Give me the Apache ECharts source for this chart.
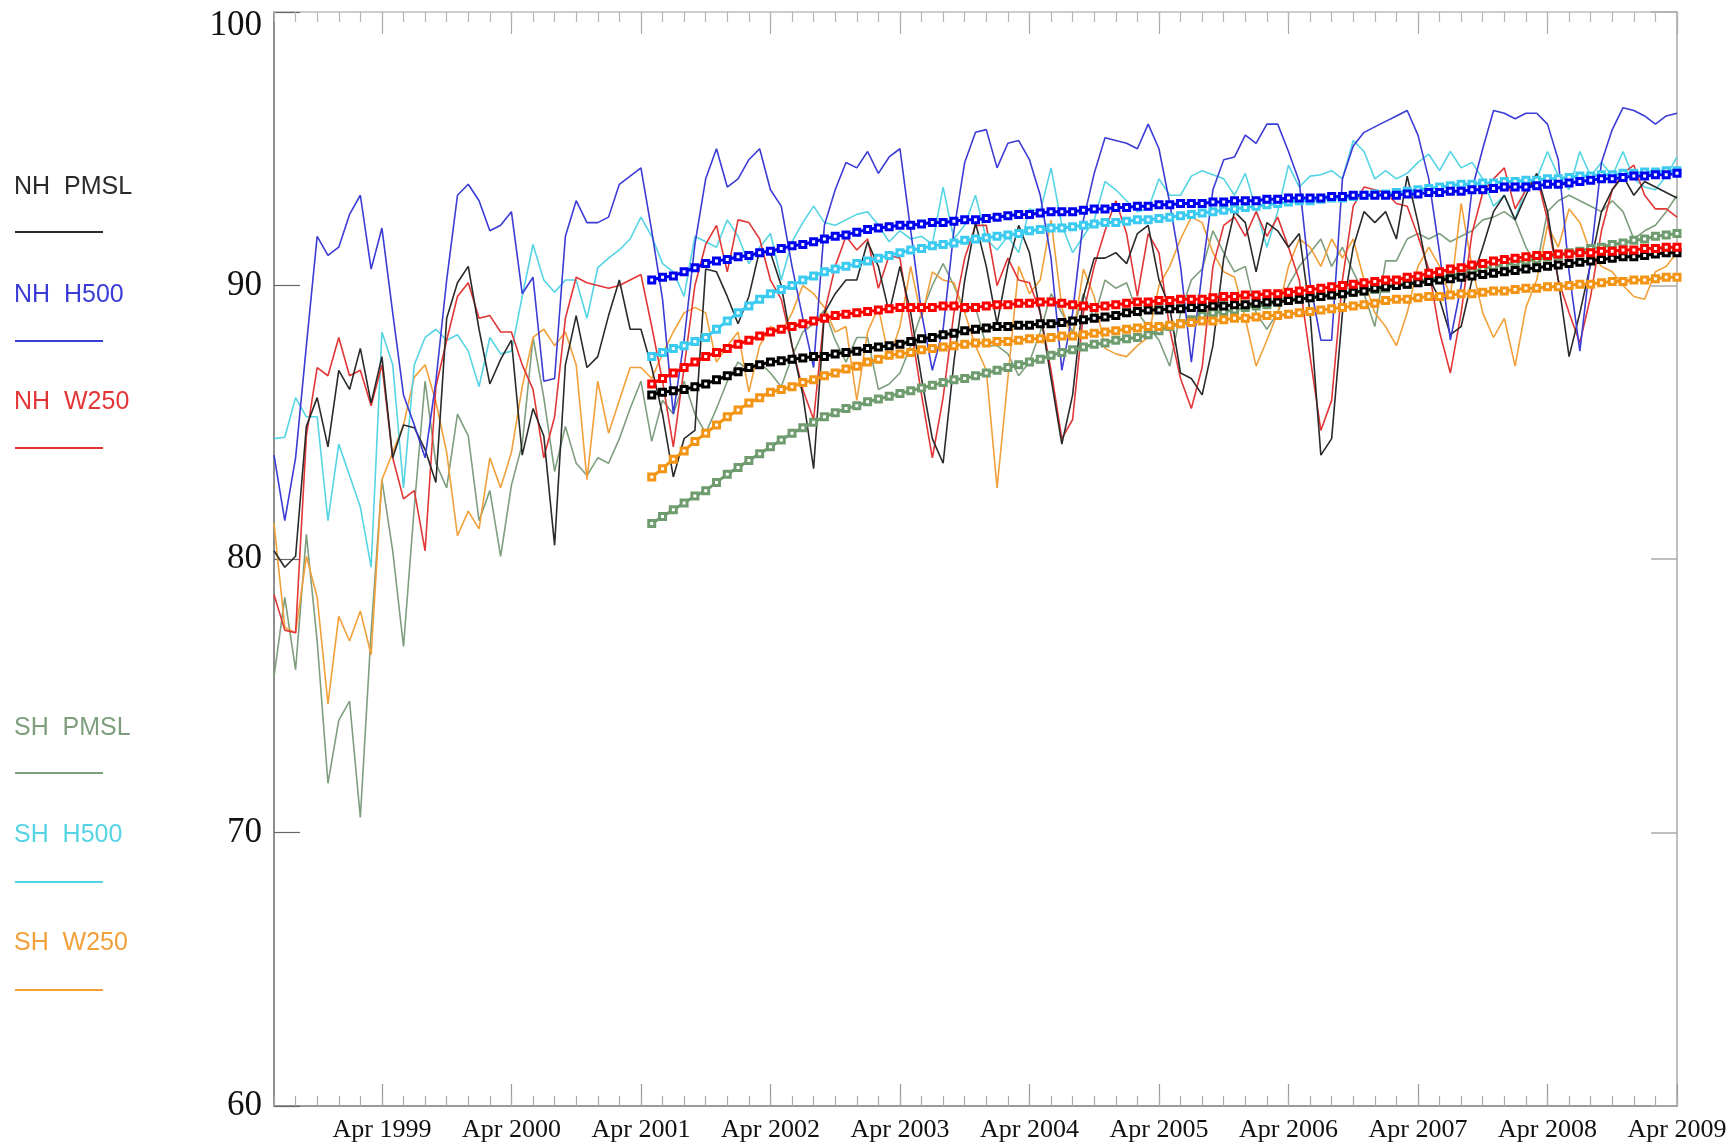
<!DOCTYPE html>
<html><head><meta charset="utf-8">
<script src="https://cdn.jsdelivr.net/npm/echarts@6/dist/echarts.min.js"></script>
<style>html,body{margin:0;padding:0;background:#fff}#c{width:1735px;height:1145px}</style>
</head><body><div id="c"></div>
<script>
// ---- categories: monthly, Jun 1998 .. Apr 2009
const startYear = 1998, startMonth = 6, nMonths = 131;
const months = [];
for (let k = 0; k < nMonths; k++) {
  const t = startMonth - 1 + k;
  months.push((startYear + Math.floor(t / 12)) + '-' + String(t % 12 + 1).padStart(2, '0'));
}
const tickLabels = ['Apr 1999','Apr 2000','Apr 2001','Apr 2002','Apr 2003','Apr 2004','Apr 2005','Apr 2006','Apr 2007','Apr 2008','Apr 2009'];
const firstTick = 10;   // index of Apr 1999
const meanStart = 35;   // first month of the running means (May 2001)

// ---- monthly scores
const nhPmsl = [80.3,79.7,80.1,84.85,85.9,84.1,86.9,86.2,87.7,85.7,87.4,83.7,84.9,84.8,84.0,82.8,88.8,90.1,90.7,88.4,86.4,87.3,88.0,83.8,85.5,84.5,80.5,87.1,88.9,87.0,87.4,88.9,90.2,88.4,88.4,87.0,85.3,83.0,84.4,84.7,90.6,90.5,89.6,88.6,89.6,91.3,91.2,90.0,87.8,86.0,83.3,89.0,89.7,90.2,90.2,91.6,90.7,89.0,90.7,89.0,86.6,84.4,83.5,87.2,90.2,92.3,90.7,88.6,90.7,92.2,91.2,89.0,86.6,84.2,86.0,89.6,91.0,91.0,91.2,90.8,91.9,92.2,90.2,89.2,86.8,86.6,86.0,87.8,91.0,92.7,92.3,90.5,92.3,92.0,91.4,91.9,89.0,83.8,84.4,89.0,91.4,92.7,92.3,92.7,91.7,94.0,92.3,90.3,89.5,88.2,88.5,90.2,91.4,92.7,93.3,92.4,93.3,94.1,92.7,90.2,87.4,89.0,90.8,92.7,93.5,94.0,93.3,93.8,93.6,93.4,93.2];
const nhH500 = [83.8,81.4,83.7,87.8,91.8,91.1,91.4,92.6,93.3,90.6,92.1,89.0,86.0,84.9,83.7,86.5,90.2,93.3,93.7,93.1,92.0,92.2,92.7,89.7,90.3,86.5,86.6,91.8,93.1,92.3,92.3,92.5,93.7,94.0,94.3,92.0,89.5,85.3,88.0,91.5,93.9,95.0,93.6,93.9,94.6,95.0,93.5,92.9,90.7,88.8,87.0,92.2,93.5,94.5,94.3,94.9,94.1,94.7,95.0,92.0,89.0,86.9,88.4,92.0,94.5,95.6,95.7,94.3,95.2,95.3,94.6,93.3,91.0,86.9,89.0,92.4,94.1,95.4,95.3,95.2,95.0,95.9,95.0,93.0,90.7,87.2,90.5,93.5,94.6,94.7,95.5,95.2,95.9,95.9,94.9,93.8,90.1,88.0,88.0,93.9,95.1,95.6,95.8,96.0,96.2,96.4,95.5,93.9,91.2,88.0,90.0,93.5,95.0,96.4,96.3,96.1,96.3,96.3,95.9,94.6,90.5,87.6,91.0,94.5,95.7,96.5,96.4,96.2,95.9,96.2,96.3];
const nhW250 = [78.7,77.4,77.3,84.5,87.0,86.7,88.1,86.7,86.9,85.6,87.1,83.7,82.2,82.5,80.3,86.3,88.0,89.6,90.1,88.8,88.9,88.3,88.3,87.1,86.2,83.7,85.2,88.8,90.3,90.1,90.0,89.9,90.0,90.2,90.4,88.5,86.5,84.1,87.0,90.0,91.5,92.2,90.5,92.4,92.3,91.7,90.2,89.5,87.8,86.2,85.1,89.0,90.7,91.8,91.3,91.7,89.9,91.1,91.0,88.5,86.0,83.7,85.9,89.0,91.0,92.2,92.2,90.0,91.0,90.2,90.1,89.0,86.9,84.4,85.1,89.0,90.7,92.0,93.1,91.9,89.6,91.9,91.2,88.4,86.6,85.5,87.0,90.7,92.2,92.5,91.8,92.7,91.8,92.5,91.4,90.2,87.4,84.7,85.8,90.2,92.9,93.6,93.5,93.4,93.0,92.9,91.8,90.6,88.3,86.8,89.0,91.9,93.4,93.9,94.3,92.8,93.5,94.0,92.4,90.2,89.0,87.9,89.6,92.0,93.5,94.1,94.4,93.3,92.8,92.8,92.5];
const shPmsl = [75.7,78.6,75.95,80.9,77.0,71.8,74.1,74.8,70.55,77.35,82.9,80.3,76.8,81.9,86.5,83.5,82.6,85.3,84.5,81.4,82.5,80.1,82.7,84.2,88.1,85.9,83.2,84.85,83.5,83.05,83.7,83.5,84.4,85.5,86.5,84.3,85.8,85.3,86.5,85.3,84.6,85.5,86.5,87.2,86.9,87.2,86.8,86.3,87.4,88.3,88.6,89.1,88.0,87.2,88.1,88.1,86.2,86.4,86.8,87.8,89.0,90.0,90.8,90.0,89.0,89.2,87.8,87.8,87.5,86.7,87.2,88.3,89.7,89.0,88.3,89.7,88.8,90.2,89.9,90.1,89.0,88.5,88.0,87.05,89.0,90.2,90.6,92.0,91.2,90.5,90.7,89.0,88.4,89.0,90.0,90.7,91.2,91.7,90.7,91.4,90.5,89.7,88.5,90.9,90.9,91.7,91.9,91.7,91.9,91.6,91.8,92.0,92.4,92.5,92.7,92.4,91.4,90.7,92.7,93.1,93.3,93.1,92.9,92.7,93.1,92.7,91.7,92.0,92.2,92.7,93.3];
const shH500 = [84.4,84.45,85.9,85.2,85.2,81.4,84.2,83.05,81.9,79.7,88.3,87.1,82.6,87.1,88.1,88.4,88.0,88.2,87.6,86.3,88.1,87.5,87.6,89.6,91.5,90.2,89.75,90.2,90.2,88.8,90.65,91.0,91.3,91.7,92.5,91.8,90.8,90.5,89.6,91.8,91.6,91.4,92.4,91.8,90.8,91.4,91.9,90.2,91.6,92.3,92.9,92.3,92.2,92.4,92.6,92.7,92.2,91.6,92.0,91.7,91.8,91.5,93.6,91.7,92.2,93.3,91.7,91.3,91.8,91.2,92.8,92.7,94.3,92.2,91.2,91.8,92.4,93.8,93.5,93.1,92.7,92.8,93.9,93.3,93.3,94.0,94.2,94.05,93.9,93.3,94.1,92.8,91.4,92.7,94.4,93.6,94.0,94.05,94.2,93.9,95.3,94.9,93.9,94.2,93.9,94.1,94.5,94.8,94.2,94.9,94.3,94.5,93.9,92.9,93.3,92.4,93.6,93.9,94.9,94.0,93.5,94.9,94.0,94.5,94.0,94.9,93.9,93.6,93.5,94.0,94.7];
const shW250 = [81.3,77.5,77.3,80.1,78.6,74.7,77.9,77.0,78.1,76.5,82.9,83.9,84.9,86.65,87.1,85.75,83.9,80.85,81.75,81.1,83.7,82.6,83.9,86.3,88.1,88.4,87.8,88.3,87.1,82.9,86.5,84.6,85.8,87.0,87.0,86.6,87.5,88.3,89.0,89.2,89.0,87.2,87.8,88.3,86.1,87.8,88.5,88.3,89.0,90.0,89.7,89.2,88.3,88.5,85.8,88.3,89.2,87.3,88.5,90.7,88.8,90.5,90.2,90.1,89.0,87.8,86.9,82.6,86.6,90.7,89.7,90.2,92.4,89.2,88.0,90.6,89.6,87.7,87.5,87.4,87.8,88.1,90.0,90.7,91.7,92.5,92.3,91.2,90.5,90.3,88.8,87.05,88.0,89.0,90.7,91.7,91.4,90.7,91.7,91.0,91.7,90.2,89.0,88.5,87.8,89.0,90.7,91.4,90.7,89.6,93.0,90.7,89.0,88.1,88.8,87.05,89.2,90.2,92.2,91.4,92.8,92.3,91.2,90.7,90.5,90.0,89.6,89.5,90.5,90.7,91.2];

// ---- running means (from May 2001)
const nhPmslMean = [86.0,86.1,86.15,86.2,86.3,86.4,86.55,86.7,86.85,87.0,87.1,87.2,87.25,87.3,87.35,87.4,87.4,87.5,87.55,87.6,87.7,87.75,87.8,87.85,87.95,88.05,88.1,88.2,88.25,88.35,88.4,88.45,88.5,88.5,88.55,88.55,88.6,88.6,88.65,88.7,88.75,88.8,88.85,88.9,89.0,89.05,89.1,89.1,89.15,89.15,89.2,89.2,89.25,89.25,89.3,89.3,89.35,89.4,89.4,89.45,89.5,89.55,89.6,89.65,89.7,89.75,89.8,89.9,89.95,90.0,90.05,90.1,90.15,90.2,90.25,90.3,90.35,90.4,90.45,90.5,90.55,90.6,90.65,90.7,90.75,90.8,90.85,90.9,90.95,91.0,91.05,91.05,91.1,91.15,91.2,91.2];
const nhH500Mean = [90.2,90.3,90.35,90.5,90.65,90.8,90.9,90.95,91.05,91.1,91.2,91.25,91.35,91.45,91.5,91.6,91.7,91.8,91.85,91.95,92.05,92.1,92.15,92.2,92.2,92.25,92.3,92.3,92.35,92.4,92.4,92.45,92.5,92.55,92.6,92.6,92.65,92.7,92.7,92.7,92.75,92.8,92.8,92.85,92.85,92.9,92.9,92.95,92.95,93.0,93.0,93.0,93.05,93.05,93.1,93.1,93.1,93.15,93.15,93.2,93.2,93.2,93.2,93.25,93.25,93.3,93.3,93.3,93.3,93.3,93.35,93.35,93.4,93.4,93.45,93.45,93.5,93.5,93.55,93.6,93.6,93.6,93.65,93.7,93.7,93.75,93.8,93.85,93.9,93.9,93.95,94.0,94.0,94.05,94.05,94.1];
const nhW250Mean = [86.4,86.6,86.8,87.0,87.2,87.4,87.55,87.7,87.85,88.0,88.15,88.3,88.4,88.5,88.6,88.7,88.8,88.9,88.95,89.0,89.05,89.1,89.15,89.2,89.2,89.2,89.2,89.25,89.25,89.2,89.2,89.25,89.3,89.3,89.35,89.35,89.4,89.4,89.35,89.3,89.25,89.2,89.25,89.3,89.35,89.4,89.4,89.45,89.45,89.5,89.5,89.5,89.55,89.6,89.6,89.65,89.65,89.7,89.7,89.75,89.8,89.85,89.9,89.95,90.0,90.05,90.1,90.15,90.2,90.2,90.3,90.35,90.45,90.5,90.6,90.65,90.75,90.8,90.9,90.95,91.0,91.05,91.1,91.1,91.15,91.15,91.2,91.2,91.25,91.25,91.3,91.3,91.35,91.35,91.4,91.4];
const shPmslMean = [81.3,81.55,81.8,82.05,82.3,82.5,82.8,83.1,83.35,83.6,83.85,84.1,84.35,84.6,84.8,85.0,85.2,85.35,85.5,85.6,85.75,85.85,85.95,86.05,86.15,86.25,86.35,86.45,86.55,86.6,86.7,86.8,86.9,87.0,87.1,87.2,87.3,87.45,87.55,87.65,87.75,87.85,87.9,88.0,88.05,88.1,88.2,88.35,88.5,88.6,88.75,88.9,89.0,89.05,89.1,89.2,89.25,89.3,89.4,89.45,89.5,89.55,89.6,89.65,89.7,89.75,89.8,89.85,89.9,90.0,90.05,90.15,90.2,90.3,90.35,90.45,90.5,90.6,90.7,90.75,90.85,90.9,90.95,91.05,91.1,91.2,91.25,91.35,91.4,91.5,91.55,91.65,91.7,91.8,91.85,91.9];
const shH500Mean = [87.4,87.55,87.7,87.8,87.95,88.1,88.4,88.7,89.0,89.25,89.5,89.7,89.85,90.0,90.2,90.35,90.5,90.6,90.7,90.8,90.9,91.0,91.1,91.2,91.3,91.35,91.45,91.5,91.55,91.65,91.7,91.75,91.8,91.85,91.9,92.0,92.05,92.1,92.1,92.15,92.2,92.25,92.3,92.3,92.35,92.4,92.4,92.45,92.5,92.55,92.6,92.65,92.7,92.75,92.8,92.85,92.9,92.95,93.0,93.05,93.1,93.1,93.15,93.2,93.2,93.25,93.3,93.35,93.35,93.4,93.45,93.5,93.55,93.6,93.65,93.7,93.7,93.75,93.75,93.8,93.8,93.85,93.85,93.9,93.9,93.95,94.0,94.0,94.05,94.05,94.1,94.1,94.15,94.15,94.2,94.2];
const shW250Mean = [83.0,83.3,83.65,83.95,84.3,84.6,84.9,85.2,85.45,85.7,85.9,86.1,86.2,86.3,86.45,86.55,86.7,86.8,86.95,87.05,87.2,87.3,87.45,87.5,87.55,87.65,87.7,87.75,87.8,87.85,87.9,87.9,87.95,87.95,88.0,88.05,88.05,88.1,88.15,88.15,88.2,88.25,88.3,88.35,88.4,88.45,88.5,88.5,88.55,88.6,88.65,88.7,88.7,88.75,88.8,88.8,88.85,88.9,88.9,88.95,89.0,89.05,89.1,89.15,89.2,89.25,89.3,89.35,89.45,89.5,89.5,89.55,89.6,89.6,89.65,89.7,89.7,89.75,89.8,89.8,89.85,89.9,89.9,89.95,89.95,90.0,90.05,90.05,90.1,90.15,90.15,90.2,90.2,90.25,90.3,90.3];

// ---- styling
const C = {
  nhPmsl: '#2a2a2a', nhH500: '#3b3bd6', nhW250: '#e23636',
  shPmsl: '#7e9e7e', shH500: '#55d4e4', shW250: '#f2a03a'
};
const CM = {
  nhPmsl: '#000000', nhH500: '#0000f0', nhW250: '#ff0000',
  shPmsl: '#6f9c6f', shH500: '#3ccbf0', shW250: '#f39414'
};
const serif = '"Liberation Serif","Times New Roman",serif';
const sans = '"Liberation Sans",Arial,sans-serif';

function thin(name, data, color) {
  return { name, type: 'line', data, symbol: 'none', xAxisIndex: 0, yAxisIndex: 0,
    lineStyle: { width: 1.6, color }, itemStyle: { color }, z: 2, silent: true };
}
function mean(name, vals, color) {
  const d = new Array(meanStart).fill(null).concat(vals);
  return { name, type: 'line', data: d, symbol: 'rect', symbolSize: 6, showAllSymbol: true,
    xAxisIndex: 0, yAxisIndex: 0,
    lineStyle: { width: 3, color }, itemStyle: { color: '#ffffff', borderColor: color, borderWidth: 3 }, z: 3, silent: true };
}

const isMajor = (i) => i >= firstTick && (i - firstTick) % 12 === 0;
const isMinor = (i) => i % 2 === 0;

const baseX = { type: 'category', data: months, boundaryGap: false };
const xAxes = [
  Object.assign({}, baseX, { position: 'bottom',
    axisLine: { lineStyle: { color: '#9a9a9a', width: 2 } },
    axisTick: { inside: true, length: 22, interval: (i) => isMajor(i), lineStyle: { color: '#999', width: 1.2 } },
    axisLabel: { interval: (i) => isMajor(i), margin: 11, color: '#111', fontFamily: serif, fontSize: 26,
      formatter: (v, i) => tickLabels[(i - firstTick) / 12] || '' },
    splitLine: { show: false } }),
  Object.assign({}, baseX, { position: 'bottom',
    axisLine: { show: false },
    axisTick: { inside: true, length: 10, interval: (i) => isMinor(i), lineStyle: { color: '#aaa', width: 1.2 } },
    axisLabel: { show: false }, splitLine: { show: false } }),
  Object.assign({}, baseX, { position: 'top',
    axisLine: { lineStyle: { color: '#bdbdbd', width: 1.5 } },
    axisTick: { inside: true, length: 22, interval: (i) => isMajor(i), lineStyle: { color: '#aaa', width: 1.2 } },
    axisLabel: { show: false }, splitLine: { show: false } }),
  Object.assign({}, baseX, { position: 'top',
    axisLine: { show: false },
    axisTick: { inside: true, length: 10, interval: (i) => isMinor(i), lineStyle: { color: '#b5b5b5', width: 1.2 } },
    axisLabel: { show: false }, splitLine: { show: false } })
];

const yAxes = [
  { type: 'value', position: 'left', min: 60, max: 100, interval: 10,
    axisLine: { show: true, lineStyle: { color: '#6a6a6a', width: 1.5 } },
    axisTick: { show: true, inside: true, length: 26, lineStyle: { color: '#666', width: 1.2 } },
    axisLabel: { color: '#111', fontFamily: serif, fontSize: 35, margin: 12,
      formatter: (v) => v === 100 ? '{top|100}' : String(v),
      rich: { top: { fontFamily: serif, fontSize: 35, color: '#111', padding: [28, 0, 0, 0] } } },
    splitLine: { show: false } },
  { type: 'value', position: 'right', min: 60, max: 100, interval: 10,
    axisLine: { show: true, lineStyle: { color: '#a8a8a8', width: 1.5 } },
    axisTick: { show: true, inside: true, length: 26, lineStyle: { color: '#aaa', width: 1.5 } },
    axisLabel: { show: false }, splitLine: { show: false } }
];

const legendItems = [
  { text: 'NH  PMSL', color: C.nhPmsl, ty: 186, ly: 232 },
  { text: 'NH  H500', color: C.nhH500, ty: 294, ly: 341 },
  { text: 'NH  W250', color: C.nhW250, ty: 401, ly: 448 },
  { text: 'SH  PMSL', color: C.shPmsl, ty: 727, ly: 773 },
  { text: 'SH  H500', color: C.shH500, ty: 834, ly: 882 },
  { text: 'SH  W250', color: C.shW250, ty: 942, ly: 990 }
];
const graphics = [];
legendItems.forEach(it => {
  graphics.push({ type: 'text', left: 14, top: it.ty - 11,
    style: { text: it.text, fill: it.color, font: '25px ' + sans } });
  graphics.push({ type: 'line', shape: { x1: 15, y1: it.ly, x2: 103, y2: it.ly },
    style: { stroke: it.color, lineWidth: 2 } });
});

const chart = echarts.init(document.getElementById('c'), null, { renderer: 'canvas' });
chart.setOption({
  animation: false,
  backgroundColor: '#ffffff',
  grid: { left: 274, right: 58, top: 12, bottom: 39, containLabel: false },
  xAxis: xAxes,
  yAxis: yAxes,
  graphic: graphics,
  series: [
    thin('SH PMSL', shPmsl, C.shPmsl),
    thin('SH W250', shW250, C.shW250),
    thin('SH H500', shH500, C.shH500),
    thin('NH W250', nhW250, C.nhW250),
    thin('NH PMSL', nhPmsl, C.nhPmsl),
    thin('NH H500', nhH500, C.nhH500),
    mean('SH PMSL mean', shPmslMean, CM.shPmsl),
    mean('SH W250 mean', shW250Mean, CM.shW250),
    mean('NH PMSL mean', nhPmslMean, CM.nhPmsl),
    mean('NH W250 mean', nhW250Mean, CM.nhW250),
    mean('SH H500 mean', shH500Mean, CM.shH500),
    mean('NH H500 mean', nhH500Mean, CM.nhH500)
  ]
});
</script></body></html>
